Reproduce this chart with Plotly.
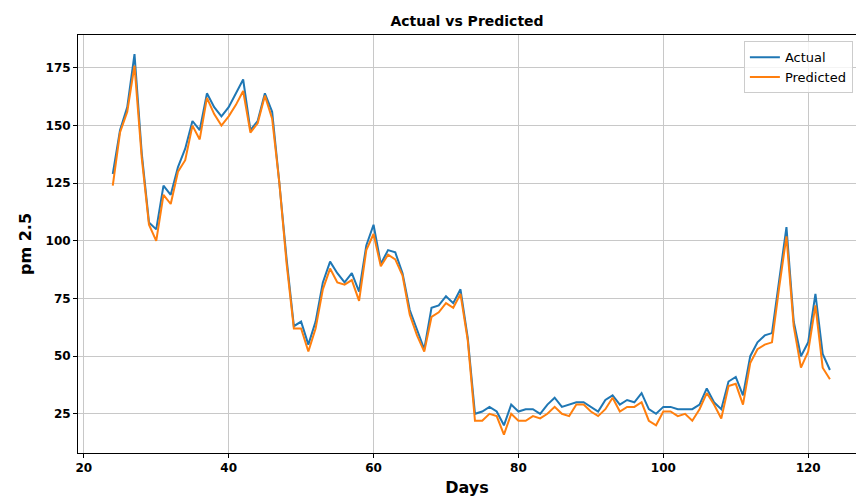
import plotly.graph_objects as go

days = list(range(24, 124))
actual = [129, 148, 158, 181, 138, 108, 105, 124, 120, 132,
          140, 152, 148, 164, 158, 154, 158, 164, 170, 148,
          152, 164, 156, 125, 92, 63, 65, 55, 65, 82,
          91, 86, 82, 86, 78, 98, 107, 90, 96, 95,
          86, 70, 61, 53, 71, 72, 76, 73, 79, 58,
          25, 26, 28, 26, 20, 29, 26, 27, 27, 25,
          29, 32, 28, 29, 30, 30, 28, 26, 31, 33,
          29, 31, 30, 34, 27, 25, 28, 28, 27, 27,
          27, 29, 36, 30, 27, 39, 41, 33, 50, 56,
          59, 60, 83, 106, 65, 50, 56, 77, 51, 44]
predicted = [124, 147, 156, 176, 136, 107, 100, 120, 116, 130,
             135, 150, 144, 162, 155, 150, 154, 159, 165, 147,
             151, 163, 153, 125, 90, 62, 62, 52, 62, 79,
             88, 82, 81, 83, 74, 96, 103, 89, 94, 92,
             85, 68, 59, 52, 67, 69, 73, 71, 77, 57,
             22, 22, 25, 24, 16, 25, 22, 22, 24, 23,
             25, 28, 25, 24, 29, 29, 26, 24, 27, 32,
             26, 28, 28, 30, 22, 20, 26, 26, 24, 25,
             22, 27, 34, 29, 23, 37, 38, 29, 47, 53,
             55, 56, 80, 102, 63, 45, 52, 72, 45, 40]

x_ticks = [20, 40, 60, 80, 100, 120]
y_ticks = [25, 50, 75, 100, 125, 150, 175]

fig = go.Figure()
fig.add_trace(go.Scatter(x=days, y=actual, mode="lines", name="Actual",
                         line=dict(color="#1f77b4", width=2)))
fig.add_trace(go.Scatter(x=days, y=predicted, mode="lines", name="Predicted",
                         line=dict(color="#ff7f0e", width=2)))

font_family = "DejaVu Sans"
fig.update_layout(
    width=856, height=497,
    margin=dict(l=78, r=0, t=35, b=44),
    paper_bgcolor="white", plot_bgcolor="white",
    title=dict(text="Actual vs Predicted", x=0.5, xanchor="center",
               xref="paper", y=0.958, yanchor="middle",
               font=dict(family=font_family, size=14, color="black", weight="bold")),
    legend=dict(x=0.996, y=0.985, xanchor="right", yanchor="top",
                bgcolor="rgba(255,255,255,0.8)", bordercolor="#cccccc", borderwidth=1,
                font=dict(family=font_family, size=13, color="black"),
                tracegroupgap=0),
    font=dict(family=font_family, color="black"),
)
fig.update_xaxes(
    range=[19.2, 126.6], tickvals=x_ticks, showgrid=True, gridcolor="#c8c8c8", gridwidth=1,
    showline=True, linecolor="black", linewidth=1, mirror=True,
    ticks="outside", ticklen=4, tickcolor="black", zeroline=False,
    tickfont=dict(family=font_family, size=12, color="black", weight="bold"),
    title=dict(text="Days", standoff=10,
               font=dict(family=font_family, size=16, color="black", weight="bold")),
)
fig.update_yaxes(
    range=[8.0, 189.3], tickvals=y_ticks, showgrid=True, gridcolor="#c8c8c8", gridwidth=1,
    showline=True, linecolor="black", linewidth=1, mirror=False,
    ticks="outside", ticklen=4, tickcolor="black", zeroline=False,
    tickfont=dict(family=font_family, size=12, color="black", weight="bold"),
    title=dict(text="pm 2.5", standoff=9,
               font=dict(family=font_family, size=16, color="black", weight="bold")),
)

fig.write_html("out.html", config={"displayModeBar": False},
               post_script="document.body.style.margin='0';document.body.style.padding='0';")
